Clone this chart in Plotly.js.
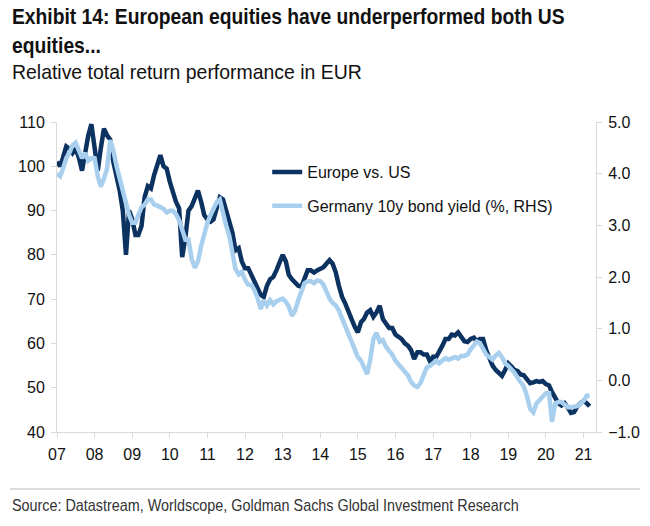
<!DOCTYPE html>
<html>
<head>
<meta charset="utf-8">
<script src="https://cdn.plot.ly/plotly-3.0.1.min.js"></script>
<style>html,body{margin:0;padding:0;background:#fff;}#chart{width:650px;height:526px;}</style>
</head>
<body>
<div id="chart"></div>
<script>
const months = [
'2007-01','2007-02','2007-03','2007-04','2007-05','2007-06','2007-07','2007-08','2007-09','2007-10','2007-11','2007-12',
'2008-01','2008-02','2008-03','2008-04','2008-05','2008-06','2008-07','2008-08','2008-09','2008-10','2008-11','2008-12',
'2009-01','2009-02','2009-03','2009-04','2009-05','2009-06','2009-07','2009-08','2009-09','2009-10','2009-11','2009-12',
'2010-01','2010-02','2010-03','2010-04','2010-05','2010-06','2010-07','2010-08','2010-09','2010-10','2010-11','2010-12',
'2011-01','2011-02','2011-03','2011-04','2011-05','2011-06','2011-07','2011-08','2011-09','2011-10','2011-11','2011-12',
'2012-01','2012-02','2012-03','2012-04','2012-05','2012-06','2012-07','2012-08','2012-09','2012-10','2012-11','2012-12',
'2013-01','2013-02','2013-03','2013-04','2013-05','2013-06','2013-07','2013-08','2013-09','2013-10','2013-11','2013-12',
'2014-01','2014-02','2014-03','2014-04','2014-05','2014-06','2014-07','2014-08','2014-09','2014-10','2014-11','2014-12',
'2015-01','2015-02','2015-03','2015-04','2015-05','2015-06','2015-07','2015-08','2015-09','2015-10','2015-11','2015-12',
'2016-01','2016-02','2016-03','2016-04','2016-05','2016-06','2016-07','2016-08','2016-09','2016-10','2016-11','2016-12',
'2017-01','2017-02','2017-03','2017-04','2017-05','2017-06','2017-07','2017-08','2017-09','2017-10','2017-11','2017-12',
'2018-01','2018-02','2018-03','2018-04','2018-05','2018-06','2018-07','2018-08','2018-09','2018-10','2018-11','2018-12',
'2019-01','2019-02','2019-03','2019-04','2019-05','2019-06','2019-07','2019-08','2019-09','2019-10','2019-11','2019-12',
'2020-01','2020-02','2020-03','2020-04','2020-05','2020-06','2020-07','2020-08','2020-09','2020-10','2020-11','2020-12',
'2021-01','2021-02','2021-03'
];

const europeVsUS = [
101, 100, 102, 104.5, 104, 103, 104, 102, 99, 103, 107, 109.5,
105, 99, 104, 108.5, 107, 106, 101, 98, 94.5, 90, 80, 90,
88, 84.5, 84.5, 86.5, 93, 95.5, 95, 98, 100, 102.5, 100, 99.5,
96.5, 94, 92, 90.5, 79.5, 84, 90, 91, 92.5, 94.5, 92, 89,
88, 87.5, 88, 90.5, 93, 92.5, 90, 87.5, 85, 81, 81.5, 78.5,
77, 77, 75.5, 74, 72.5, 71, 70.5, 73, 74.5, 75, 76.5, 78.5,
80, 78.5, 75.5, 74.5, 73.8, 73, 72.8, 74.5, 76.5, 76.5, 76, 76.5,
77, 77.2, 78, 78.8, 78, 76, 73, 70.5, 69, 67, 65.5, 63.8,
62.5, 64.8, 65.5, 67, 67.5, 66, 67, 68.5, 65.5, 64.5, 63.5, 63.5,
62, 61.5, 61, 60, 59.5, 58.5, 56.5, 58, 58, 57.5, 57.5, 56,
57, 57, 58, 59.5, 61, 61, 62, 61.8, 62.5, 61.5, 60.5, 60.3,
61, 61.3, 60.5, 61, 61, 58.5, 56.5, 55, 54, 53.5, 52.7, 54,
55.5, 54.8, 54, 53.8, 53, 52.8, 52, 51, 51.2, 51.5, 51.3, 51.5,
50.8, 50.5, 49, 47.5, 46.5, 46, 46.5, 45.5, 44.3, 44.5, 45.8, 46.5,
47, 46.5, 45.8
];

const germanyYield = [
4.0, 3.95, 4.1, 4.3, 4.4, 4.55, 4.6, 4.45, 4.3, 4.4, 4.25, 4.3,
4.3, 3.95, 3.75, 3.9, 4.1, 4.65, 4.45, 4.15, 3.9, 3.65, 3.4, 3.2,
3.05, 3.05, 3.2, 3.35, 3.4, 3.5, 3.5, 3.4, 3.38, 3.35, 3.32, 3.25,
3.28, 3.28, 3.22, 3.1, 2.9, 2.72, 2.72, 2.35, 2.18, 2.3, 2.6, 2.85,
3.05, 3.2, 3.3, 3.45, 3.5, 3.2, 3.0, 2.8, 2.45, 2.15, 2.05, 2.1,
1.95, 1.85, 1.85, 1.75, 1.6, 1.38, 1.55, 1.45, 1.55, 1.47, 1.53, 1.55,
1.58, 1.52, 1.43, 1.25, 1.35, 1.55, 1.72, 1.88, 1.92, 1.92, 1.88, 1.93,
1.92, 1.85, 1.72, 1.58, 1.5, 1.45, 1.35, 1.2, 1.05, 0.9, 0.75, 0.58,
0.45, 0.38, 0.25, 0.12, 0.4, 0.8, 0.92, 0.75, 0.78, 0.65, 0.57, 0.5,
0.38, 0.3, 0.25, 0.18, 0.1, -0.03, -0.1, -0.13, -0.05, 0.1, 0.25, 0.28,
0.33, 0.38, 0.33, 0.37, 0.43, 0.4, 0.42, 0.45, 0.42, 0.47, 0.47, 0.5,
0.6, 0.7, 0.75, 0.72, 0.63, 0.5, 0.45, 0.4, 0.48, 0.53, 0.45, 0.33,
0.28, 0.22, 0.15, 0.05, -0.02, -0.12, -0.3, -0.55, -0.62, -0.45, -0.38, -0.33,
-0.25, -0.25, -0.8, -0.45, -0.42, -0.42, -0.48, -0.52, -0.52, -0.52, -0.5, -0.45,
-0.4, -0.3, -0.3
];

const yearTicks = ['2007-01-01','2008-01-01','2009-01-01','2010-01-01','2011-01-01','2012-01-01','2013-01-01','2014-01-01','2015-01-01','2016-01-01','2017-01-01','2018-01-01','2019-01-01','2020-01-01','2021-01-01'];
const yearLabels = ['07','08','09','10','11','12','13','14','15','16','17','18','19','20','21'];
const leftTicks = [40, 50, 60, 70, 80, 90, 100, 110];
const rightTicks = [-1, 0, 1, 2, 3, 4, 5];

const seriesNames = ['Europe vs. US', 'Germany 10y bond yield (%, RHS)'];
const titleText = '<b>Exhibit 14: European equities have underperformed both US<br>equities...</b>';
const subtitleText = 'Relative total return performance in EUR';
const sourceText = 'Source: Datastream, Worldscope, Goldman Sachs Global Investment Research';

const SANS = '"Liberation Sans", Arial, sans-serif';
const GRID = '#d9d9d9';
// condensed look: pixel widths the narrow header/footer texts span in the reference
const narrowWidths = [553, 350, 507];

const traces = [
  {x: months, y: europeVsUS, name: seriesNames[0], type: 'scatter', mode: 'lines',
   line: {color: '#0c3261', width: 4.5}, legendgroup: 'a', yaxis: 'y'},
  {x: months, y: germanyYield, name: seriesNames[1], type: 'scatter', mode: 'lines',
   line: {color: '#a8cfee', width: 4.5}, legendgroup: 'b', yaxis: 'y2'}
];

const axisCommon = {showline: true, linecolor: GRID, linewidth: 1, ticks: 'outside', ticklen: 5,
  tickcolor: GRID, showgrid: false, zeroline: false, ticklabelstandoff: 3,
  tickfont: {family: SANS, size: 16, color: '#111'}};

const layout = {
  width: 650, height: 526,
  margin: {l: 57, r: 54, t: 122, b: 94},
  paper_bgcolor: '#fff', plot_bgcolor: '#fff',
  showlegend: true,
  legend: {x: 0.39, y: 0.893, xanchor: 'left', yanchor: 'top', bgcolor: 'rgba(0,0,0,0)',
    traceorder: 'grouped', tracegroupgap: 10,
    font: {family: SANS, size: 16, color: '#111'}},
  xaxis: Object.assign({}, axisCommon, {type: 'date', range: ['2007-01-01', '2021-05-02'],
    tickvals: yearTicks, ticktext: yearLabels}),
  yaxis: Object.assign({}, axisCommon, {range: [40, 110], tickvals: leftTicks}),
  yaxis2: Object.assign({}, axisCommon, {overlaying: 'y', side: 'right', range: [-1, 5],
    tickvals: rightTicks, tickformat: '.1f'}),
  annotations: [
    {text: titleText, xref: 'paper', yref: 'paper', align: 'left',
     x: -0.0872, y: 1.2935, xanchor: 'left', yanchor: 'middle', showarrow: false,
     font: {family: SANS, size: 22, color: '#111'}},
    {text: subtitleText, xref: 'paper', yref: 'paper', align: 'left',
     x: -0.0872, y: 1.1613, xanchor: 'left', yanchor: 'middle', showarrow: false,
     font: {family: SANS, size: 21, color: '#111'}},
    {text: sourceText, xref: 'paper', yref: 'paper', align: 'left',
     x: -0.0872, y: -0.2387, xanchor: 'left', yanchor: 'middle', showarrow: false,
     font: {family: SANS, size: 17, color: '#333'}}
  ],
  shapes: [
    {type: 'line', xref: 'paper', yref: 'paper', x0: -0.0872, x1: 1.0816, y0: -0.1839, y1: -0.1839,
     line: {color: '#cfcfcf', width: 1.5}}
  ]
};

Plotly.newPlot('chart', traces, layout, {displayModeBar: false, staticPlot: true}).then(function (gd) {
  gd.querySelectorAll('g.annotation').forEach(function (g) {
    const idx = +g.getAttribute('data-index');
    const t = g.querySelector('text.annotation-text');
    if (!t || narrowWidths[idx] === undefined) return;
    const bb = t.getBBox();
    if (!bb.width) return;
    const s = narrowWidths[idx] / bb.width;
    t.setAttribute('transform', 'translate(' + bb.x + ',0) scale(' + s + ',1) translate(' + (-bb.x) + ',0)');
  });
});
</script>
</body>
</html>
